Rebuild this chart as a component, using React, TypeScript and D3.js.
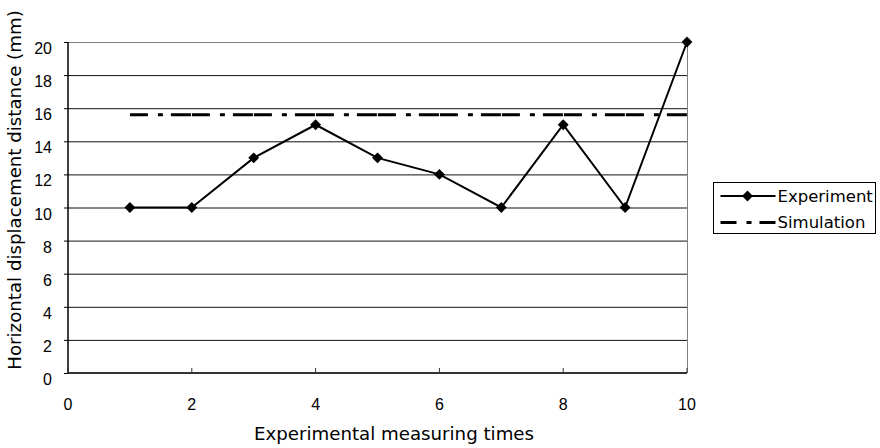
import React, { useRef, useEffect } from 'react';
import * as d3 from 'd3';

// chart data
const measuringTimes = [1, 2, 3, 4, 5, 6, 7, 8, 9, 10];
const experimentValues = [10, 10, 13, 15, 13, 12, 10, 15, 10, 20];
const simulationTimes = [1, 10];
const simulationValues = [15.6, 15.6];
const xTicks = [0, 2, 4, 6, 8, 10];
const yTicks = [0, 2, 4, 6, 8, 10, 12, 14, 16, 18, 20];
const seriesNames = ['Experiment', 'Simulation'];

const App: React.FC = () => {
  const svgRef = useRef<SVGSVGElement | null>(null);

  useEffect(() => {
    if (!svgRef.current) return;
    const svg = d3.select(svgRef.current);
    svg.selectAll('*').remove();

    const width = 880;
    const height = 448;
    const margin = { top: 42, right: 193, bottom: 75, left: 68 };
    const plotWidth = width - margin.left - margin.right;
    const plotHeight = height - margin.top - margin.bottom;
    const tickFont = '"Liberation Sans", Arial, sans-serif';
    const titleFont = '"DejaVu Sans", Verdana, sans-serif';

    const xScale = d3.scaleLinear().domain([0, 10]).range([0, plotWidth]);
    const yScale = d3.scaleLinear().domain([0, 20]).range([plotHeight, 0]);

    const g = svg.append('g')
      .attr('transform', `translate(${margin.left}, ${margin.top})`);

    // horizontal grid lines
    g.selectAll('.grid-line')
      .data(yTicks.filter(d => d > 0))
      .enter()
      .append('line')
      .attr('class', 'grid-line')
      .attr('x1', 0)
      .attr('x2', plotWidth)
      .attr('y1', d => yScale(d) + 0.5)
      .attr('y2', d => yScale(d) + 0.5)
      .attr('stroke', d => (d === 20 ? '#808080' : '#111'))
      .attr('stroke-width', 1);

    // right border of plot area
    g.append('line')
      .attr('x1', plotWidth + 0.5)
      .attr('x2', plotWidth + 0.5)
      .attr('y1', 0)
      .attr('y2', plotHeight)
      .attr('stroke', '#808080');

    // y axis
    g.append('line')
      .attr('x1', 0)
      .attr('x2', 0)
      .attr('y1', 0)
      .attr('y2', plotHeight)
      .attr('stroke', '#000')
      .attr('stroke-width', 1.5);

    g.selectAll('.y-tick')
      .data(yTicks)
      .enter()
      .append('line')
      .attr('x1', -4)
      .attr('x2', 0)
      .attr('y1', d => yScale(d) + 0.5)
      .attr('y2', d => yScale(d) + 0.5)
      .attr('stroke', '#000');

    g.selectAll('.y-label')
      .data(yTicks)
      .enter()
      .append('text')
      .attr('x', -16)
      .attr('y', d => yScale(d) + 12)
      .attr('text-anchor', 'end')
      .attr('font-family', tickFont)
      .attr('font-size', 16)
      .text(d => d);

    // x axis
    g.append('line')
      .attr('x1', 0)
      .attr('x2', plotWidth)
      .attr('y1', plotHeight)
      .attr('y2', plotHeight)
      .attr('stroke', '#333')
      .attr('stroke-width', 2);

    g.selectAll('.x-tick')
      .data(xTicks)
      .enter()
      .append('line')
      .attr('x1', d => xScale(d))
      .attr('x2', d => xScale(d))
      .attr('y1', plotHeight - 5)
      .attr('y2', plotHeight)
      .attr('stroke', '#333');

    g.selectAll('.x-label')
      .data(xTicks)
      .enter()
      .append('text')
      .attr('x', d => xScale(d))
      .attr('y', plotHeight + 37)
      .attr('text-anchor', 'middle')
      .attr('font-family', tickFont)
      .attr('font-size', 16)
      .text(d => d);

    // axis titles
    svg.append('text')
      .attr('transform', 'rotate(-90)')
      .attr('x', -190)
      .attr('y', 21)
      .attr('text-anchor', 'middle')
      .attr('font-family', titleFont)
      .attr('font-size', 18.2)
      .text('Horizontal displacement distance (mm)');

    svg.append('text')
      .attr('x', 394)
      .attr('y', 440)
      .attr('text-anchor', 'middle')
      .attr('font-family', titleFont)
      .attr('font-size', 18.2)
      .text('Experimental measuring times');

    // simulation line
    const simLine = d3.line<number>()
      .x((_, i) => xScale(simulationTimes[i]))
      .y(d => yScale(d));

    g.append('path')
      .datum(simulationValues)
      .attr('d', simLine)
      .attr('fill', 'none')
      .attr('stroke', '#000')
      .attr('stroke-width', 3)
      .attr('stroke-dasharray', '18,10,5,8,20,1');

    // experiment line
    const expLine = d3.line<number>()
      .x((_, i) => xScale(measuringTimes[i]))
      .y(d => yScale(d));

    g.append('path')
      .datum(experimentValues)
      .attr('d', expLine)
      .attr('fill', 'none')
      .attr('stroke', '#000')
      .attr('stroke-width', 2);

    const diamond = d3.symbol().type(d3.symbolDiamond2).size(76);

    g.selectAll('.marker')
      .data(experimentValues)
      .enter()
      .append('path')
      .attr('class', 'marker')
      .attr('d', diamond)
      .attr('transform', (d, i) => `translate(${xScale(measuringTimes[i])}, ${yScale(d)})`)
      .attr('fill', '#000');

    // legend
    const legend = svg.append('g').attr('transform', 'translate(713.5, 182.5)');
    legend.append('rect')
      .attr('width', 162)
      .attr('height', 51)
      .attr('fill', '#fff')
      .attr('stroke', '#000');

    legend.append('line')
      .attr('x1', 7)
      .attr('x2', 62)
      .attr('y1', 13.5)
      .attr('y2', 13.5)
      .attr('stroke', '#000')
      .attr('stroke-width', 2);
    legend.append('path')
      .attr('d', diamond)
      .attr('transform', 'translate(34, 13.5)')
      .attr('fill', '#000');

    legend.append('line')
      .attr('x1', 7)
      .attr('x2', 62)
      .attr('y1', 40)
      .attr('y2', 40)
      .attr('stroke', '#000')
      .attr('stroke-width', 3)
      .attr('stroke-dasharray', '16,10,5,8,20');

    legend.selectAll('.legend-label')
      .data(seriesNames)
      .enter()
      .append('text')
      .attr('x', 64)
      .attr('y', (_, i) => 19.5 + i * 26)
      .attr('font-family', titleFont)
      .attr('font-size', 16.5)
      .text(d => d);
  }, []);

  return (
    <svg ref={svgRef} width={880} height={448} style={{ display: 'block', position: 'absolute', left: 0, top: 0, background: '#fff' }}></svg>
  );
};

export default App;
